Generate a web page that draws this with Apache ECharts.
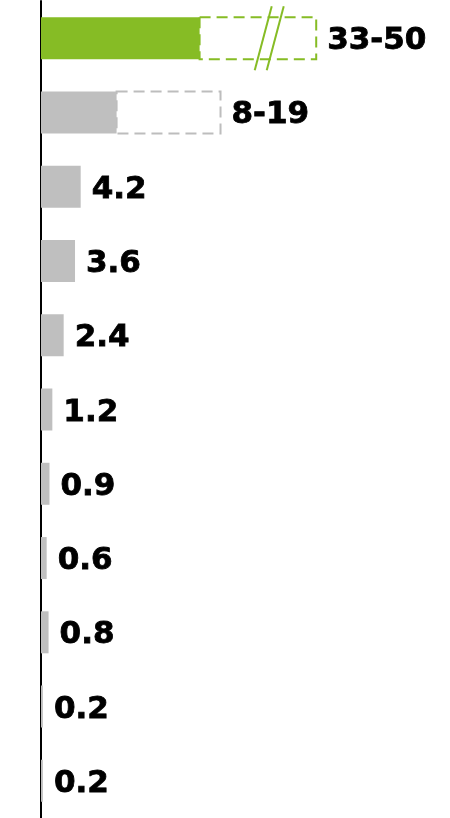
<!DOCTYPE html>
<html>
<head>
<meta charset="utf-8">
<style>
  html, body { margin: 0; padding: 0; background: #fff; }
  #chart { width: 450px; height: 818px; }
</style>
<script src="https://cdn.jsdelivr.net/npm/echarts@6/dist/echarts.min.js"></script>
</head>
<body>
<div id="chart"></div>
<script>
// Row ids (top to bottom); not shown on the chart
const categories = ['r1', 'r2', 'r3', 'r4', 'r5', 'r6', 'r7', 'r8', 'r9', 'r10', 'r11'];
// Lower value of each row (solid bar)
const lows = [33, 8, 4.2, 3.6, 2.4, 1.2, 0.9, 0.6, 0.8, 0.2, 0.2];
// Upper value where a range is given (dashed outline), null otherwise
const highs = [50, 19, null, null, null, null, null, null, null, null, null];
// Rows drawn on the broken scale (with the // marker)
const brokenRows = [0];
// Breaks of that scale: [start, end, gap]
const axisBreaks = [
  [16, 33, 1],
  [40, 45, 0.5]
];
const linearMax = 39;
const brokenMax = 60;

const GREEN = '#86BC25';
const GREY = '#BFBFBF';
const GREY_LINE = '#BDBDBD';
const highlightRow = 0;

const FONT_FAMILY = '"DejaVu Sans", Verdana, sans-serif';
const FONT_SIZE = 31;
const LABEL_GAP = 11;

function fmt(v) { return String(v); }
const isBroken = i => brokenRows.indexOf(i) >= 0;

const chart = echarts.init(document.getElementById('chart'), null, { renderer: 'canvas' });

function barData(onBroken) {
  return lows.map((v, i) => ({
    value: isBroken(i) === onBroken ? v : null,
    itemStyle: { color: i === highlightRow ? GREEN : GREY }
  }));
}

function rangeData(onBroken) {
  const out = [];
  highs.forEach((h, i) => {
    if (h != null && isBroken(i) === onBroken) out.push([i, lows[i], h]);
  });
  return out;
}

// the visible marker sits in the middle of the last break
const markBreak = axisBreaks[axisBreaks.length - 1];

function renderRange(params, api) {
  const row = api.value(0);
  const lo = api.coord([api.value(1), row]);
  const hi = api.coord([api.value(2), row]);
  const h = 42;
  const color = row === highlightRow ? GREEN : GREY_LINE;
  const children = [{
    type: 'rect',
    shape: { x: lo[0], y: lo[1] - h / 2, width: hi[0] - lo[0], height: h },
    style: { fill: '#fff', stroke: color, lineWidth: 2, lineDash: [11, 6] }
  }];
  if (isBroken(row)) {
    const a = api.coord([markBreak[0], row])[0];
    const b = api.coord([markBreak[1], row])[0];
    const cx = (a + b) / 2 + 2;
    const cy = lo[1];
    const half = 32, slant = 8.5;
    [-6, 6].forEach(off => {
      children.push({
        type: 'line',
        shape: { x1: cx + off + slant, y1: cy - half, x2: cx + off - slant, y2: cy + half },
        style: { stroke: color, lineWidth: 2 }
      });
    });
  }
  children.push({
    type: 'text',
    style: {
      x: hi[0] + LABEL_GAP,
      y: lo[1] + 3,
      text: fmt(api.value(1)) + '-' + fmt(api.value(2)),
      fill: '#000',
      stroke: '#000',
      lineWidth: 0.8,
      font: 'bold ' + FONT_SIZE + 'px ' + FONT_FAMILY,
      verticalAlign: 'middle',
      align: 'left'
    }
  });
  return { type: 'group', children: children };
}

const hiddenAxis = {
  axisLine: { show: false },
  axisTick: { show: false },
  axisLabel: { show: false },
  splitLine: { show: false }
};

const barLabel = {
  show: true,
  position: 'right',
  distance: LABEL_GAP,
  offset: [0, 3],
  fontFamily: FONT_FAMILY,
  fontWeight: 'bold',
  fontSize: FONT_SIZE,
  color: '#000',
  textBorderColor: '#000',
  textBorderWidth: 0.8,
  formatter: p => (p.value == null || highs[p.dataIndex] != null) ? '' : fmt(p.value)
};

chart.setOption({
  animation: false,
  backgroundColor: '#fff',
  grid: { left: 41, width: 368.5, top: 1, height: 818, containLabel: false },
  xAxis: [
    { type: 'value', min: 0, max: linearMax, ...hiddenAxis },
    {
      type: 'value',
      min: 0,
      max: brokenMax,
      breaks: axisBreaks.map(b => ({ start: b[0], end: b[1], gap: b[2] })),
      breakArea: { show: false },
      ...hiddenAxis
    }
  ],
  yAxis: {
    type: 'category',
    data: categories,
    inverse: true,
    axisLine: { show: true, lineStyle: { color: '#000', width: 2 } },
    axisTick: { show: false },
    axisLabel: { show: false },
    splitLine: { show: false }
  },
  series: [
    {
      type: 'bar',
      xAxisIndex: 0,
      data: barData(false),
      barWidth: 42,
      barGap: '-100%',
      z: 3,
      label: barLabel
    },
    {
      type: 'bar',
      xAxisIndex: 1,
      data: barData(true),
      barWidth: 42,
      barGap: '-100%',
      z: 3,
      label: barLabel
    },
    {
      type: 'custom',
      xAxisIndex: 0,
      z: 2,
      data: rangeData(false),
      encode: { x: [1, 2], y: 0 },
      renderItem: renderRange
    },
    {
      type: 'custom',
      xAxisIndex: 1,
      z: 2,
      data: rangeData(true),
      encode: { x: [1, 2], y: 0 },
      renderItem: renderRange
    }
  ]
});
</script>
</body>
</html>
